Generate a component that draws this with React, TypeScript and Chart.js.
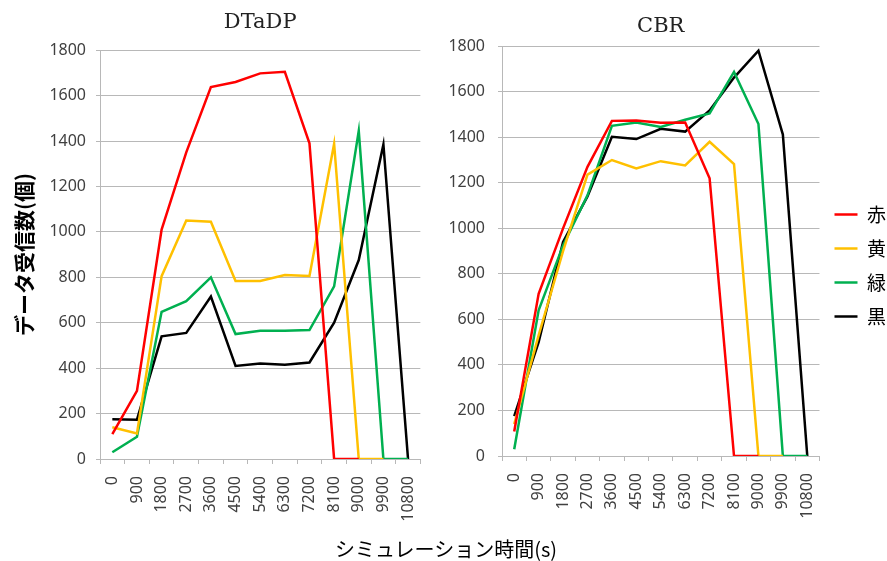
import React, { useEffect, useRef } from "react";
import { Chart, registerables } from "chart.js";

Chart.register(...registerables);

const categories = ["0", "900", "1800", "2700", "3600", "4500", "5400", "6300", "7200", "8100", "9000", "9900", "10800"];
const seriesNames = ["赤", "黄", "緑", "黒"];
const seriesColors = ["#ff0000", "#ffc000", "#00b050", "#000000"];

const dtadpRed = [110, 300, 1010, 1350, 1638, 1660, 1698, 1705, 1390, 0, 0, null, null];
const dtadpYellow = [140, 112, 805, 1050, 1045, 784, 784, 810, 806, 1388, 0, 0, null];
const dtadpGreen = [30, 98, 648, 695, 800, 550, 565, 565, 568, 760, 1445, 0, 0];
const dtadpBlack = [175, 173, 540, 555, 715, 410, 420, 415, 425, 600, 876, 1385, 0];

const cbrRed = [108, 712, 1000, 1270, 1472, 1474, 1464, 1465, 1220, 0, 0, null, null];
const cbrYellow = [140, 530, 900, 1236, 1300, 1263, 1295, 1276, 1380, 1282, 0, 0, null];
const cbrGreen = [30, 640, 925, 1145, 1450, 1465, 1445, 1477, 1505, 1687, 1458, 0, 0];
const cbrBlack = [175, 500, 940, 1140, 1402, 1392, 1437, 1425, 1518, 1662, 1780, 1412, 0];

const yMin = 0;
const yMax = 1800;
const yStep = 200;

const tickFont = { family: "'Noto Sans', sans-serif", size: 16 };
const gridColor = "#b8b8b8";

function makeDatasets(values: (number | null)[][]) {
  return values.map((v, i) => ({
    label: seriesNames[i],
    data: v,
    borderColor: seriesColors[i],
    backgroundColor: seriesColors[i],
    borderWidth: 2.5,
    pointRadius: 0,
    tension: 0,
    fill: false,
  }));
}

function makeOptions(cfg: any): any {
  return {
    responsive: false,
    animation: false,
    devicePixelRatio: 1,
    layout: { padding: cfg.padding },
    plugins: {
      title: {
        display: true,
        text: cfg.title,
        fullSize: cfg.titleFull,
        color: "#222",
        font: { family: "'DejaVu Serif', serif", size: 21, weight: "normal" },
        padding: cfg.titlePadding,
      },
      legend: cfg.legend,
      tooltip: { enabled: false },
    },
    scales: {
      x: {
        type: "category",
        offset: true,
        grid: { offset: true, drawOnChartArea: false, drawTicks: true, tickLength: 5, color: gridColor },
        border: { color: gridColor, width: 1 },
        ticks: { minRotation: 90, maxRotation: 90, autoSkip: false, padding: 12, color: "#404040", font: tickFont },
        afterFit: (s: any) => { s.height = cfg.xHeight; },
      },
      y: {
        min: yMin,
        max: yMax,
        ticks: {
          stepSize: yStep,
          padding: cfg.yPad,
          color: "#404040",
          font: tickFont,
          callback: (v: any) => String(v),
        },
        grid: { color: gridColor, tickLength: 4, drawTicks: true },
        border: { color: gridColor, width: 1 },
        title: cfg.yTitle,
        afterFit: (s: any) => { s.width = cfg.yWidth; },
      },
    },
  };
}

function ChartCanvas(props: { width: number; height: number; left: number; config: any }) {
  const ref = useRef<HTMLCanvasElement | null>(null);
  useEffect(() => {
    if (!ref.current) return;
    const chart = new Chart(ref.current, props.config);
    return () => chart.destroy();
  }, []);
  return (
    <canvas
      ref={ref}
      width={props.width}
      height={props.height}
      style={{ position: "absolute", left: props.left, top: 0, width: props.width, height: props.height }}
    />
  );
}

export default function App() {
  const leftConfig = {
    type: "line",
    data: { labels: categories, datasets: makeDatasets([dtadpRed, dtadpYellow, dtadpGreen, dtadpBlack]) },
    options: makeOptions({
      title: "DTaDP",
      titleFull: false,
      titlePadding: { top: 10, bottom: 15 },
      padding: { left: 0, right: 18, top: 0, bottom: 27 },
      legend: { display: false },
      xHeight: 75,
      yWidth: 100,
      yPad: 10,
      yTitle: {
        display: true,
        text: "データ受信数(個)",
        color: "#000",
        font: { family: "'Noto Sans CJK JP', sans-serif", size: 21, weight: "bold" },
        padding: { top: 11, bottom: 0 },
      },
    }),
  };

  const rightConfig = {
    type: "line",
    data: { labels: categories, datasets: makeDatasets([cbrRed, cbrYellow, cbrGreen, cbrBlack]) },
    options: makeOptions({
      title: "CBR",
      titleFull: false,
      titlePadding: { top: 14, bottom: 7 },
      padding: { left: 0, right: 0, top: 0, bottom: 30 },
      legend: {
        display: true,
        position: "right",
        align: "center",
        labels: {
          usePointStyle: true,
          pointStyle: "line",
          pointStyleWidth: 23,
          padding: 15,
          color: "#000",
          font: { family: "'Noto Sans CJK JP', sans-serif", size: 19 },
        },
      },
      xHeight: 75,
      yWidth: 62,
      yPad: 13,
      yTitle: { display: false },
    }),
  };

  return (
    <div style={{ position: "fixed", left: 0, top: 0, width: 887, height: 561, background: "#fff", overflow: "hidden" }}>
      <ChartCanvas width={440} height={561} left={0} config={leftConfig} />
      <ChartCanvas width={456} height={561} left={440} config={rightConfig} />
      <div
        style={{
          position: "absolute",
          left: 0,
          width: 892,
          top: 535,
          textAlign: "center",
          fontFamily: "'Noto Sans CJK JP', sans-serif",
          fontSize: 20,
          lineHeight: "28px",
          color: "#000",
        }}
      >
        シミュレーション時間(s)
      </div>
    </div>
  );
}
